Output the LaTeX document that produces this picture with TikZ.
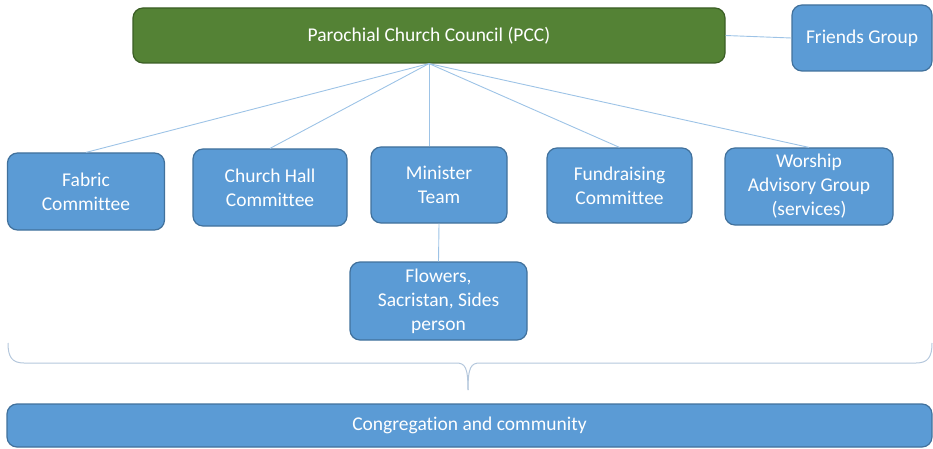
\documentclass[tikz,border=0pt]{standalone}
\usepackage{fontspec}
\setmainfont[Ligatures=NoCommon]{Carlito}
\definecolor{boxblue}{HTML}{5B9BD5}
\definecolor{boxedge}{HTML}{41719C}
\definecolor{pccgreen}{HTML}{548235}
\definecolor{pccedge}{HTML}{3B5E25}
\definecolor{linkblue}{HTML}{9DC3E6}
\definecolor{bracegrey}{HTML}{B4C7DC}
\begin{document}
\begin{tikzpicture}[x=1pt,y=1pt,
  unit/.style={draw=boxedge, line width=1.2pt, fill=boxblue, rounded corners=10pt,
    text=white, align=center, font=\fontsize{19.5}{24}\selectfont, inner sep=2pt},
  pccbox/.style={unit, draw=pccedge, fill=pccgreen},
  link/.style={draw=linkblue, line width=0.9pt},
  bracestyle/.style={draw=bracegrey, line width=1pt}]
\useasboundingbox (0,0) rectangle (933,-449);
\node[pccbox, minimum width=592, minimum height=55] (pcc) at (429,-35.5) {Parochial Church Council (PCC)};
\node[unit, minimum width=140, minimum height=66] (friends) at (862,-38) {Friends Group};
\node[unit, minimum width=157, minimum height=77] (fabric) at (86,-191.5) {Fabric\\Committee};
\node[unit, minimum width=154, minimum height=77] (hall) at (270,-187.5) {Church Hall\\Committee};
\node[unit, minimum width=136, minimum height=76] (minister) at (439,-185) {Minister\\Team};
\node[unit, minimum width=145, minimum height=75] (fund) at (619.5,-185.5) {Fundraising\\Committee};
\node[unit, minimum width=168, minimum height=77] (worship) at (809,-186.5) {Worship\\Advisory Group\\(services)};
\node[unit, minimum width=177, minimum height=78] (flowers) at (438.5,-301) {Flowers,\\Sacristan, Sides\\person};
\node[unit, minimum width=925, minimum height=43] (cong) at (469.5,-425.5) {Congregation and community};
\draw[link] (pcc.east) -- (friends.west);
\draw[link] (pcc.south) -- (fabric.north);
\draw[link] (pcc.south) -- (hall.north);
\draw[link] (pcc.south) -- (minister.north -| pcc.south);
\draw[link] (pcc.south) -- (fund.north);
\draw[link] (pcc.south) -- (worship.north);
\draw[link] (minister.south) -- (flowers.north);
\coordinate (bl) at (8,-343);
\coordinate (br) at (932,-343);
\coordinate (tip) at (468,-390);
\draw[bracestyle] (bl) .. controls (8,-357) and (12,-363) .. (24,-363) -- (456,-363)
  .. controls (465,-363) and (468,-367) .. (tip);
\draw[bracestyle] (br) .. controls (932,-357) and (928,-363) .. (916,-363) -- (480,-363)
  .. controls (471,-363) and (468,-367) .. (tip);
\end{tikzpicture}
\end{document}
